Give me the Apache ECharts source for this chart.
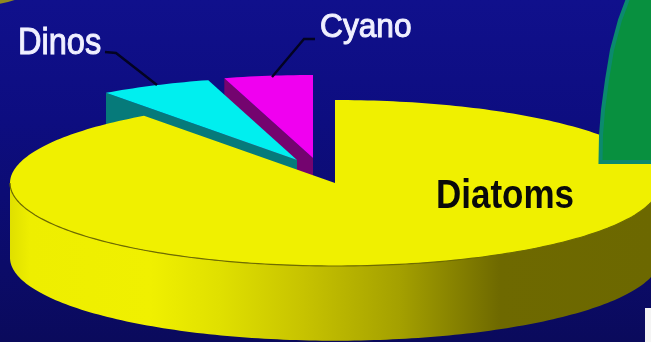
<!DOCTYPE html>
<html>
<head>
<meta charset="utf-8">
<style>html,body{margin:0;padding:0;background:#0c0c78}#c{width:651px;height:342px}</style>
<script src="https://cdn.jsdelivr.net/npm/echarts@6/dist/echarts.min.js"></script>
</head>
<body>
<div id="c"></div>
<script>
// Phytoplankton composition, clockwise from twelve o'clock.
const sliceNames = ['Diatoms', 'Dinos', 'Cyano'];
const sliceShares = [90, 5.6, 4.4];

// Pixel scale of the flattened disc and where its centre sits.
const W = 651, H = 342;
const RX = 325, RY = 83, CX = 335, CY = 183;
const DEPTH = 0.9;                       // wall height, in y-axis units
const sliceOffsets = [[0, 0], [-38 / RX, 23 / RY], [-22 / RX, 25 / RY]];
const topColors = ['#f0f000', '#00efef', '#f000f0'];
const wallColors = [null, '#067a7a', '#74046f'];

const wallFill = {
  type: 'linear', x: 0, y: 0, x2: W, y2: 0, global: true,
  colorStops: [
    [0, '#d8d800'], [30, '#eeee00'], [150, '#f0f000'], [220, '#e0e000'],
    [300, '#c8c400'], [400, '#a4a000'], [500, '#6e6900'], [651, '#6c6800']
  ].map(([p, color]) => ({ offset: p / W, color }))
};

const total = sliceShares.reduce((a, b) => a + b, 0);
const startAngle = sliceShares.map((_, i) =>
  sliceShares.slice(0, i).reduce((a, b) => a + b, 0) / total * 2 * Math.PI);

function arc(from, to, ox, oy, drop) {
  const pts = [];
  const steps = Math.max(2, Math.ceil((to - from) / 0.02));
  for (let k = 0; k <= steps; k++) {
    const t = from + (to - from) * k / steps;
    pts.push([ox + Math.sin(t), oy + Math.cos(t) - drop]);
  }
  return pts;
}

function renderSlice(params, api) {
  const i = api.value(0);
  const a0 = startAngle[i];
  const a1 = a0 + sliceShares[i] / total * 2 * Math.PI;
  const [ox, oy] = sliceOffsets[i];
  const px = pts => pts.map(p => api.coord(p));
  const children = [];
  const level = (2 - i) * 10;

  if (i === 0) {
    // Front wall of the large slice: right-hand extreme round to the left-hand extreme.
    const lo = arc(Math.PI / 2, 3 * Math.PI / 2, ox, oy, DEPTH);
    const hi = arc(Math.PI / 2, 3 * Math.PI / 2, ox, oy, 0).reverse();
    children.push({
      type: 'polygon', z2: level, shape: { points: px(lo.concat(hi)) },
      style: { fill: wallFill }
    });
  } else {
    // Cut face on the leading edge of a pulled-out slice.
    const cx = ox + Math.sin(a0), cy = oy + Math.cos(a0);
    children.push({
      type: 'polygon', z2: level,
      shape: { points: px([[ox, oy], [cx, cy], [cx, cy - DEPTH], [ox, oy - DEPTH]]) },
      style: { fill: wallColors[i] }
    });
  }

  children.push({
    type: 'polygon', z2: level + 1,
    shape: { points: px([[ox, oy]].concat(arc(a0, a1, ox, oy, 0))) },
    style: { fill: topColors[i] }
  });

  if (i === 0) {
    children.push({
      type: 'polyline', z2: level + 2,
      shape: { points: px(arc(Math.PI / 2, 3 * Math.PI / 2, ox, oy, 0)) },
      style: { fill: 'none', stroke: '#6f6c00', lineWidth: 1.2 }
    });
  }
  return { type: 'group', children };
}

const chart = echarts.init(document.getElementById('c'), null, { renderer: 'canvas', width: W, height: H });
chart.setOption({
  animation: false,
  backgroundColor: {
    type: 'linear', x: 0, y: 0, x2: 0, y2: 1,
    colorStops: [
      { offset: 0, color: '#10108c' }, { offset: 0.35, color: '#0d0d80' },
      { offset: 1, color: '#0a0a5c' }
    ]
  },
  grid: { left: 0, right: 0, top: 0, bottom: 0 },
  xAxis: { type: 'value', show: false, min: -CX / RX, max: (W - CX) / RX },
  yAxis: { type: 'value', show: false, min: -(H - CY) / RY, max: CY / RY },
  series: [{
    type: 'custom',
    coordinateSystem: 'cartesian2d',
    renderItem: renderSlice,
    data: [2, 1, 0].map(i => [i, sliceShares[i]]),
    encode: { x: 0, y: 1 },
    silent: true
  }],
  graphic: [
    // Edge of the neighbouring green panel.
    { type: 'polygon', z: 50,
      shape: { points: [[629, -4], [620, 20], [612, 50], [607, 80], [603, 110], [601, 135], [600.5, 162], [656, 162], [656, -4]] },
      style: { fill: '#08903f', stroke: '#0b8a6e', lineWidth: 4 } },
    // White panel at the lower right, yellow sliver in the opposite corner.
    { type: 'rect', z: 50, shape: { x: 645, y: 308, width: 8, height: 36 }, style: { fill: '#f4f4f4' } },
    { type: 'polygon', z: 50, shape: { points: [[-1, -1], [18, -1], [8, 2], [-1, 4]] }, style: { fill: '#8f8a20' } },
    // Leader lines.
    { type: 'polyline', z: 40, shape: { points: [[105, 52], [116, 53], [157, 85]] },
      style: { fill: 'none', stroke: '#030322', lineWidth: 2.4 } },
    { type: 'polyline', z: 40, shape: { points: [[315, 39], [304, 39], [272, 77]] },
      style: { fill: 'none', stroke: '#030322', lineWidth: 2.4 } },
    // Labels.
    { type: 'text', z: 60, x: 18, y: 25, scaleX: 0.88,
      style: { text: sliceNames[1], fill: '#f0f0ff', stroke: '#f0f0ff', lineWidth: 1, font: '37px "Liberation Sans"' } },
    { type: 'text', z: 60, x: 320, y: 11, scaleX: 0.96,
      style: { text: sliceNames[2], fill: '#f0f0ff', stroke: '#f0f0ff', lineWidth: 1, font: '33px "Liberation Sans"' } },
    { type: 'text', z: 60, x: 436, y: 176.5, scaleX: 0.875,
      style: { text: sliceNames[0], fill: '#0a0a0a', font: 'bold 40px "Liberation Sans"' } }
  ]
});
</script>
</body>
</html>
